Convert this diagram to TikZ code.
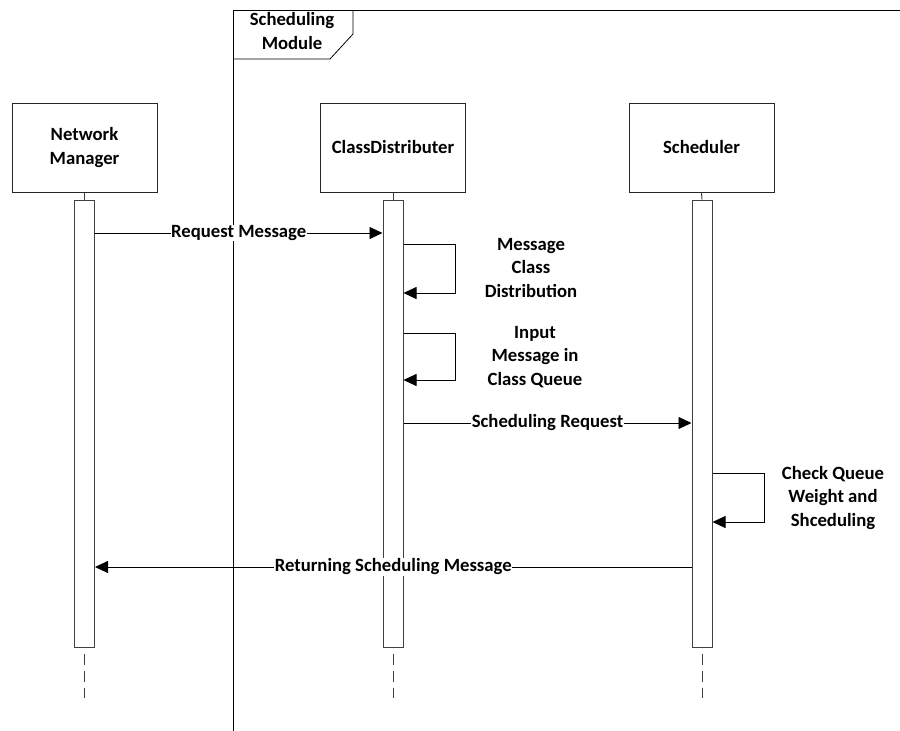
\documentclass[tikz,border=0pt]{standalone}
\usepackage{fontspec}
\setmainfont{Carlito}
\usetikzlibrary{arrows.meta}
\begin{document}
\begin{tikzpicture}[x=1pt,y=-1pt,
  lbl/.style={font=\bfseries\fontsize{18.7}{23.5}\selectfont, align=center},
  obj/.style={draw=black!85, line width=1pt, minimum width=145pt, minimum height=89pt, inner sep=0pt, lbl},
  bar/.style={draw=black!75, line width=1pt, fill=white, minimum width=20pt, minimum height=447pt, inner sep=0pt},
  msg/.style={line width=0.8pt, -{Triangle[length=13pt,width=12pt]}},
  tag/.style={lbl, fill=white, inner sep=0.5pt},
  life/.style={line width=1pt, draw=black!75, dash pattern=on 11pt off 6pt},
  frm/.style={line width=0.8pt, draw=black}
]
\useasboundingbox (0,0) rectangle (900,731);
% frame
\draw[frm] (233,731) -- (233,10) -- (900,10);
\draw[frm] (233,59) -- (330,59) -- (353,34) -- (353,10);
\node[lbl] (frmlbl) at (292,31) {Scheduling\\Module};
% lifelines
\node[obj] (nm) at (84.5,147.5) {Network\\Manager};
\node[obj] (cd) at (393,147.5) {ClassDistributer};
\node[obj] (sc) at (701.5,147.5) {Scheduler};
\node[bar] (nmb) at (84.5,423.5) {};
\node[bar] (cdb) at (393,423.5) {};
\node[bar] (scb) at (702,423.5) {};
\draw[line width=1pt, draw=black!75] (nm.south) -- (nmb.north);
\draw[line width=1pt, draw=black!75] (cd.south) -- (cdb.north);
\draw[line width=1pt, draw=black!75] (sc.south) -- (scb.north);
\draw[life] (nmb.south) ++(0,6) -- ++(0,44);
\draw[life] (cdb.south) ++(0,6) -- ++(0,44);
\draw[life] (scb.south) ++(0,6) -- ++(0,44);
% messages
\draw[msg] (nmb.east |- 0,233) -- node[tag]{Request Message} (cdb.west |- 0,233);
\draw[msg] (cdb.east |- 0,244) -- (455,244) -- (455,293) -- (cdb.east |- 0,293);
\node[lbl] (l1) at (531,268) {Message\\Class\\Distribution};
\draw[msg] (cdb.east |- 0,333) -- (455,333) -- (455,380) -- (cdb.east |- 0,380);
\node[lbl] (l2) at (535,357) {Input\\Message in\\Class Queue};
\draw[msg] (cdb.east |- 0,423) -- node[tag]{Scheduling Request} (scb.west |- 0,423);
\draw[msg] (scb.east |- 0,473) -- (764,473) -- (764,522) -- (scb.east |- 0,522);
\node[lbl] (l3) at (833,498) {Check Queue\\Weight and\\Shceduling};
\draw[msg] (scb.west |- 0,567) -- node[tag]{Returning Scheduling Message} (nmb.east |- 0,567);
\end{tikzpicture}
\end{document}
